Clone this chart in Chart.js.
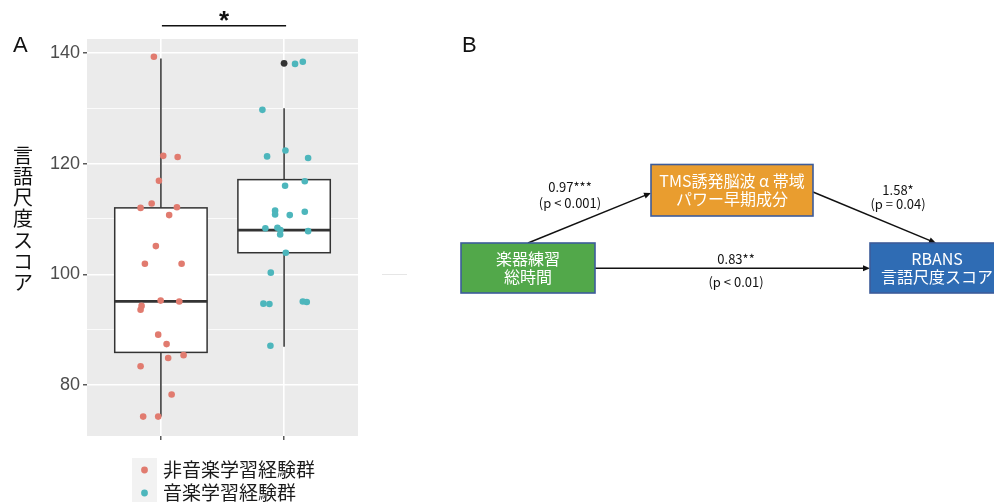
<!DOCTYPE html>
<html>
<head>
<meta charset="utf-8">
<script src="https://cdn.jsdelivr.net/npm/chart.js@4"></script>
<style>
  html, body { margin: 0; padding: 0; background: #fff; }
  canvas { display: block; }
</style>
</head>
<body>
<canvas id="fig" width="994" height="502"></canvas>
<script>
// 群名
const groups = ['非音楽学習経験群', '音楽学習経験群'];
const yTitle = '言語尺度スコア';

// 個別データ (スコアと横方向のジッター)
const nonMusicScores = [139.3, 121.4, 121.2, 116.9, 112.8, 112.0, 112.1, 110.7, 105.1, 101.9, 101.9, 95.25, 95.1, 94.3, 93.6, 89.1, 87.4, 84.9, 85.4, 83.4, 78.3, 74.3, 74.3];
const nonMusicJitter = [-0.057, 0.019, 0.136, -0.016, -0.075, -0.165, 0.130, 0.067, -0.041, -0.130, 0.168, -0.002, 0.149, -0.157, -0.165, -0.022, 0.046, 0.059, 0.184, -0.165, 0.087, -0.144, -0.022];
const musicScores = [138.0, 138.4, 129.7, 122.35, 121.3, 121.0, 116.8, 116.0, 111.5, 110.8, 110.7, 111.3, 108.3, 108.4, 108.0, 107.2, 107.8, 103.9, 100.3, 94.7, 94.65, 95.1, 95.0, 87.1];
const musicJitter = [0.089, 0.152, -0.176, 0.011, -0.138, 0.195, 0.168, 0.008, -0.073, -0.073, 0.046, 0.168, -0.152, -0.054, -0.030, -0.032, 0.195, 0.014, -0.108, -0.168, -0.119, 0.152, 0.184, -0.111];

// 箱ひげ図の統計量
const boxMin = [74.3, 86.9];
const boxQ1 = [85.9, 103.9];
const boxMedian = [95.1, 108.0];
const boxQ3 = [112.0, 117.1];
const boxMax = [139.0, 130.0];
const boxOutliers = [[], [138.1]];

const yTicks = [80, 90, 100, 110, 120, 130, 140];
const yLabelTicks = [80, 100, 120, 140];

// 媒介分析
const nodeLabels = [['楽器練習', '総時間'], ['TMS誘発脳波 α 帯域', 'パワー早期成分'], ['RBANS', '言語尺度スコア']];
const pathCoefs = ['0.97***', '1.58*', '0.83**'];
const pathP = ['(p < 0.001)', '(p = 0.04)', '(p < 0.01)'];

const RED = '#E17B6F';
const TEAL = '#4DB6BC';
const JP = "'Noto Sans CJK JP', sans-serif";
const LAT = "'Liberation Sans', Arial, sans-serif";

function toPoints(vals, jit, center) {
  return vals.map((v, i) => ({ x: center + jit[i], y: v }));
}

const panelPlugin = {
  id: 'panelA',
  beforeDraw(chart) {
    const { ctx, chartArea: a } = chart;
    ctx.save();
    ctx.fillStyle = '#EBEBEB';
    ctx.fillRect(a.left, a.top, a.right - a.left, a.bottom - a.top);
    ctx.restore();
  },
  beforeDatasetsDraw(chart) {
    const { ctx, scales: { x, y } } = chart;
    ctx.save();
    for (let i = 0; i < groups.length; i++) {
      const c = x.getPixelForValue(i + 1);
      const l = x.getPixelForValue(i + 1 - 0.375);
      const r = x.getPixelForValue(i + 1 + 0.375);
      ctx.strokeStyle = '#333';
      ctx.lineWidth = 1.5;
      // ひげ
      ctx.beginPath();
      ctx.moveTo(c, y.getPixelForValue(boxQ3[i]));
      ctx.lineTo(c, y.getPixelForValue(boxMax[i]));
      ctx.moveTo(c, y.getPixelForValue(boxQ1[i]));
      ctx.lineTo(c, y.getPixelForValue(boxMin[i]));
      ctx.stroke();
      // 箱
      const top = y.getPixelForValue(boxQ3[i]);
      const bot = y.getPixelForValue(boxQ1[i]);
      ctx.fillStyle = '#fff';
      ctx.fillRect(l, top, r - l, bot - top);
      ctx.strokeRect(l, top, r - l, bot - top);
      // 中央値
      ctx.lineWidth = 2.8;
      ctx.beginPath();
      ctx.moveTo(l, y.getPixelForValue(boxMedian[i]));
      ctx.lineTo(r, y.getPixelForValue(boxMedian[i]));
      ctx.stroke();
      // 外れ値
      ctx.fillStyle = '#333';
      boxOutliers[i].forEach(v => {
        ctx.beginPath();
        ctx.arc(c, y.getPixelForValue(v), 3.4, 0, Math.PI * 2);
        ctx.fill();
      });
    }
    ctx.restore();
  },
  afterDraw(chart) {
    const { ctx, scales: { x } } = chart;
    ctx.save();
    // 有意差
    const x1 = x.getPixelForValue(1) + 1;
    const x2 = x.getPixelForValue(2) + 2;
    ctx.strokeStyle = '#111';
    ctx.lineWidth = 1.6;
    ctx.beginPath();
    ctx.moveTo(x1, 25.7);
    ctx.lineTo(x2, 25.7);
    ctx.stroke();
    ctx.fillStyle = '#111';
    ctx.font = 'bold 26px ' + LAT;
    ctx.textAlign = 'center';
    ctx.textBaseline = 'middle';
    ctx.fillText('*', (x1 + x2) / 2, 22);

    // パネル記号
    ctx.font = '22px ' + LAT;
    ctx.textAlign = 'left';
    ctx.textBaseline = 'alphabetic';
    ctx.fillText('A', 13, 52);
    ctx.fillText('B', 462, 52);

    // 縦書き軸タイトル
    ctx.font = '20px ' + JP;
    ctx.textAlign = 'center';
    ctx.textBaseline = 'middle';
    [...yTitle].forEach((ch, i) => ctx.fillText(ch, 23, 155 + i * 21.3));

    // 凡例
    ctx.fillStyle = '#F2F2F2';
    ctx.fillRect(132, 458, 25, 44);
    [RED, TEAL].forEach((col, i) => {
      ctx.fillStyle = col;
      ctx.beginPath();
      ctx.arc(144.5, 470 + i * 23, 3.4, 0, Math.PI * 2);
      ctx.fill();
    });
    ctx.fillStyle = '#1A1A1A';
    ctx.font = '19px ' + JP;
    ctx.textAlign = 'left';
    groups.forEach((g, i) => ctx.fillText(g, 163, 470 + i * 23));

    // 名残の線
    ctx.strokeStyle = '#E6E6E6';
    ctx.lineWidth = 1;
    ctx.beginPath();
    ctx.moveTo(382, 274.5);
    ctx.lineTo(407, 274.5);
    ctx.stroke();

    drawDiagram(ctx);
    ctx.restore();
  }
};

function arrow(ctx, x0, y0, x1, y1) {
  const ang = Math.atan2(y1 - y0, x1 - x0);
  ctx.strokeStyle = '#111';
  ctx.fillStyle = '#111';
  ctx.lineWidth = 1.5;
  ctx.beginPath();
  ctx.moveTo(x0, y0);
  ctx.lineTo(x1 - 5 * Math.cos(ang), y1 - 5 * Math.sin(ang));
  ctx.stroke();
  ctx.beginPath();
  ctx.moveTo(x1, y1);
  ctx.lineTo(x1 - 7 * Math.cos(ang) + 3 * Math.sin(ang), y1 - 7 * Math.sin(ang) - 3 * Math.cos(ang));
  ctx.lineTo(x1 - 7 * Math.cos(ang) - 3 * Math.sin(ang), y1 - 7 * Math.sin(ang) + 3 * Math.cos(ang));
  ctx.closePath();
  ctx.fill();
}

function drawDiagram(ctx) {
  const boxes = [
    { x: 461, y: 243, w: 134, h: 50, fill: '#52A84A' },
    { x: 651, y: 164.5, w: 162, h: 51.5, fill: '#E99D2F' },
    { x: 870, y: 243, w: 134, h: 50, fill: '#2F6CB4' }
  ];
  arrow(ctx, 528, 243, 651, 193);
  arrow(ctx, 813, 192, 936, 243);
  arrow(ctx, 595, 268.3, 870, 268.3);

  boxes.forEach((b, i) => {
    ctx.fillStyle = b.fill;
    ctx.fillRect(b.x, b.y, b.w, b.h);
    ctx.strokeStyle = '#3D5C9A';
    ctx.lineWidth = 1.6;
    ctx.strokeRect(b.x, b.y, b.w, b.h);
    ctx.fillStyle = '#fff';
    ctx.font = '16px ' + JP;
    ctx.textAlign = 'center';
    ctx.textBaseline = 'middle';
    const cx = i === 2 ? 937 : b.x + b.w / 2;
    ctx.fillText(nodeLabels[i][0], cx, b.y + b.h / 2 - 9);
    ctx.fillText(nodeLabels[i][1], cx, b.y + b.h / 2 + 9);
  });

  const lab = [
    { x: 570, y1: 187.5, y2: 203.5 },
    { x: 898, y1: 190, y2: 204.5 },
    { x: 736, y1: 259, y2: 282.5 }
  ];
  ctx.fillStyle = '#111';
  ctx.font = '13px ' + JP;
  lab.forEach((p, i) => {
    ctx.fillText(pathCoefs[i], p.x, p.y1);
    ctx.fillText(pathP[i], p.x, p.y2);
  });
}

new Chart(document.getElementById('fig'), {
  type: 'scatter',
  data: {
    datasets: [
      { label: groups[0], data: toPoints(nonMusicScores, nonMusicJitter, 1), backgroundColor: RED, borderWidth: 0, pointRadius: 3.3 },
      { label: groups[1], data: toPoints(musicScores, musicJitter, 2), backgroundColor: TEAL, borderWidth: 0, pointRadius: 3.3 }
    ]
  },
  options: {
    responsive: false,
    devicePixelRatio: 1,
    animation: false,
    layout: { padding: { top: 39, left: 0, right: 636, bottom: 0 } },
    plugins: { legend: { display: false }, tooltip: { enabled: false } },
    scales: {
      x: {
        type: 'linear', min: 0.4, max: 2.6,
        afterBuildTicks: s => { s.ticks = [{ value: 1 }, { value: 2 }]; },
        afterFit: s => { s.height = 66; },
        ticks: { callback: () => '' },
        border: { display: false },
        grid: { color: '#fff', lineWidth: 1.6, tickLength: 4, tickColor: '#333', tickWidth: 1.2 }
      },
      y: {
        type: 'linear', min: 70.8, max: 142.5,
        afterBuildTicks: s => { s.ticks = yTicks.map(v => ({ value: v })); },
        afterFit: s => { s.width = 87; },
        border: { display: false },
        ticks: {
          padding: 3,
          color: '#4D4D4D',
          font: { family: LAT, size: 18 },
          callback: v => yLabelTicks.includes(v) ? String(v) : ''
        },
        grid: {
          color: '#fff',
          lineWidth: c => yLabelTicks.includes(c.tick.value) ? 1.6 : 0.8,
          tickLength: 4,
          tickWidth: 1.2,
          tickColor: c => yLabelTicks.includes(c.tick.value) ? '#333' : 'rgba(0,0,0,0)'
        }
      }
    }
  },
  plugins: [panelPlugin]
});
</script>
</body>
</html>
